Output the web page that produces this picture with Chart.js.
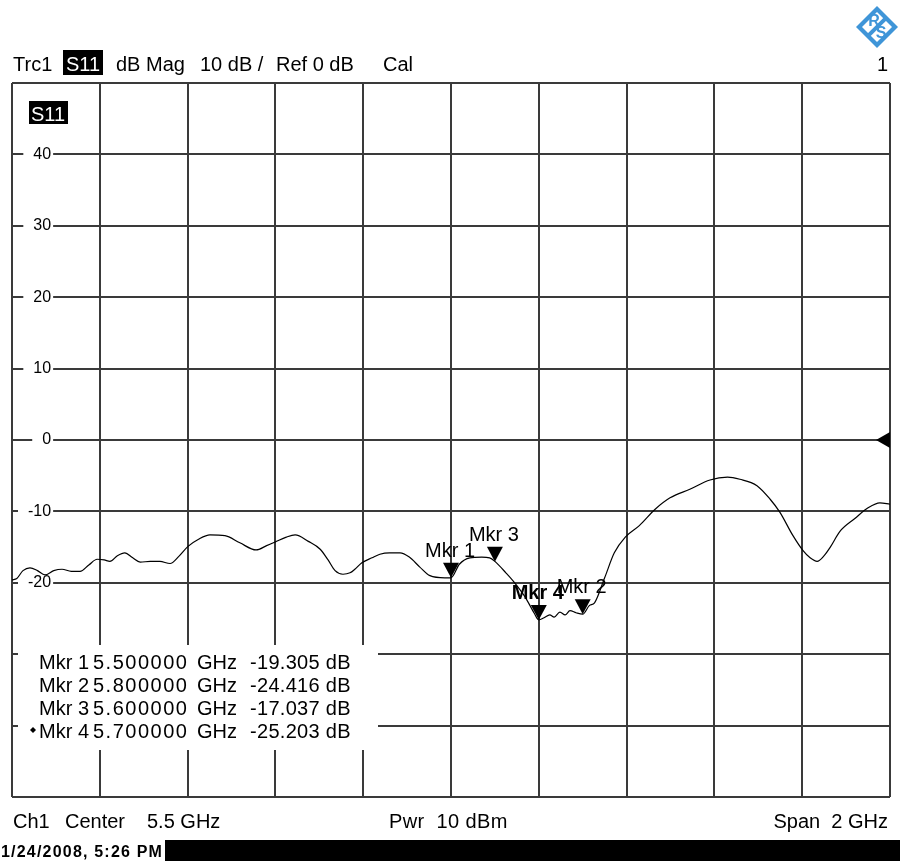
<!DOCTYPE html>
<html>
<head>
<meta charset="utf-8">
<title>S11 dB Mag</title>
<script src="https://cdn.jsdelivr.net/npm/chart.js@4.4.1/dist/chart.umd.min.js"></script>
<style>
  html, body { margin: 0; padding: 0; background: #fff; }
  #wrap { width: 900px; height: 861px; }
</style>
</head>
<body>
<div id="wrap"><canvas id="grafica" width="900" height="861"></canvas></div>
<script>
// Traza S11 (frecuencia en GHz, magnitud en dB)
const freqGHz = [
  4.500, 4.511, 4.525, 4.541, 4.558, 4.575, 4.595, 4.614, 4.635, 4.655,
  4.675, 4.694, 4.710, 4.723, 4.740, 4.757, 4.775, 4.792, 4.815, 4.837,
  4.860, 4.880, 4.901, 4.925, 4.951, 4.985, 5.019, 5.056, 5.080, 5.099,
  5.125, 5.145, 5.175, 5.202, 5.220, 5.236, 5.254, 5.270, 5.281, 5.297,
  5.320, 5.338, 5.360, 5.384, 5.405, 5.429, 5.452, 5.486, 5.500, 5.519,
  5.543, 5.570, 5.588, 5.600, 5.625, 5.645, 5.669, 5.690, 5.700, 5.712,
  5.725, 5.735, 5.748, 5.760, 5.771, 5.785, 5.800, 5.815, 5.827, 5.850,
  5.872, 5.897, 5.929, 5.965, 5.999, 6.044, 6.090, 6.130, 6.158, 6.197,
  6.227, 6.249, 6.279, 6.302, 6.318, 6.334, 6.350, 6.364, 6.386, 6.420,
  6.450, 6.477, 6.500
];
const s11dB = [
  -19.6, -19.4, -18.3, -17.9, -18.3, -18.9, -18.3, -18.1, -18.4, -18.4,
  -17.5, -16.7, -16.8, -17.0, -16.2, -15.8, -16.5, -17.1, -17.0, -17.0,
  -17.3, -16.3, -14.9, -13.9, -13.3, -13.4, -14.4, -15.4, -14.8, -14.3,
  -13.6, -13.3, -14.2, -15.3, -16.8, -18.3, -18.8, -18.6, -18.1, -17.2,
  -16.5, -16.0, -15.8, -15.8, -16.4, -17.8, -19.0, -19.3, -19.3, -17.4,
  -16.5, -16.4, -16.5, -17.0, -18.6, -20.0, -22.0, -24.3, -25.2, -24.9,
  -24.5, -24.8, -24.1, -24.5, -23.9, -24.2, -24.4, -23.2, -22.8, -19.3,
  -15.8, -13.6, -12.0, -9.7, -8.1, -6.9, -5.6, -5.2, -5.5, -6.4,
  -8.3, -10.1, -13.4, -15.5, -16.5, -17.0, -16.2, -15.0, -12.8, -11.0,
  -9.5, -8.8, -9.0
];

// Rejilla: 10 divisiones en frecuencia, 10 dB por división
const xGridGHz = [4.5, 4.7, 4.9, 5.1, 5.3, 5.5, 5.7, 5.9, 6.1, 6.3, 6.5];
const yMinDb = -50;
const yMaxDb = 50;
const yStepDb = 10;
const refLevelDb = 0;

// Marcadores
const markerNames = ['Mkr 1', 'Mkr 2', 'Mkr 3', 'Mkr 4'];
const markerFreqGHz = [5.5, 5.8, 5.6, 5.7];
const markerDb = [-19.305, -24.416, -17.037, -25.203];
const activeMarker = 3;

const FUENTE = "'Liberation Sans', Arial, sans-serif";
const COLOR_REJILLA = '#3a3a3a';

// Se dibuja el logotipo en forma de rombo
function dibujarLogo(ctx, cx, cy, r) {
    ctx.save();
    ctx.translate(cx, cy);
    ctx.beginPath();
    ctx.moveTo(0, -r); ctx.lineTo(r, 0); ctx.lineTo(0, r); ctx.lineTo(-r, 0);
    ctx.closePath();
    ctx.fillStyle = '#3f95d8';
    ctx.fill();
    const ri = r - 6;
    ctx.beginPath();
    ctx.moveTo(0, -ri); ctx.lineTo(ri, 0); ctx.lineTo(0, ri); ctx.lineTo(-ri, 0);
    ctx.closePath();
    ctx.fillStyle = '#ffffff';
    ctx.fill();
    ctx.rotate(-Math.PI / 4);
    ctx.fillStyle = '#3f95d8';
    ctx.fillRect(-ri * 0.75, -2, ri * 1.5, 4);
    ctx.rotate(Math.PI / 4);
    ctx.font = 'bold 16px ' + FUENTE;
    ctx.textAlign = 'center';
    ctx.textBaseline = 'middle';
    ctx.fillText('R', -3, -5);
    ctx.fillText('S', 4, 7);
    ctx.restore();
}

// Se dibuja un texto con caja negra y letras blancas
function textoInvertido(ctx, texto, x, y, caja) {
    ctx.fillStyle = '#000';
    ctx.fillRect(caja[0], caja[1], caja[2], caja[3]);
    ctx.fillStyle = '#fff';
    ctx.textAlign = 'left';
    ctx.fillText(texto, x, y);
}

const pluginPantalla = {
    id: 'pantalla',
    beforeDraw(chart) {
        const ctx = chart.ctx;
        ctx.save();
        ctx.fillStyle = '#fff';
        ctx.fillRect(0, 0, chart.width, chart.height);
        ctx.restore();
    },
    afterDatasetsDraw(chart) {
        const ctx = chart.ctx;
        const xs = chart.scales.x;
        const ys = chart.scales.y;
        ctx.save();
        // Triángulos de marcador sobre la traza
        markerNames.forEach((nombre, i) => {
            const px = xs.getPixelForValue(markerFreqGHz[i]);
            const py = ys.getPixelForValue(markerDb[i]);
            ctx.beginPath();
            ctx.moveTo(px, py);
            ctx.lineTo(px - 8, py - 15);
            ctx.lineTo(px + 8, py - 15);
            ctx.closePath();
            ctx.fillStyle = '#000';
            ctx.fill();
        });
        markerNames.forEach((nombre, i) => {
            const px = xs.getPixelForValue(markerFreqGHz[i]);
            const py = ys.getPixelForValue(markerDb[i]);
            ctx.font = (i === activeMarker ? 'bold ' : '') + '20px ' + FUENTE;
            ctx.textAlign = 'center';
            ctx.textBaseline = 'alphabetic';
            ctx.fillStyle = '#000';
            ctx.fillText(nombre, px - 1, py - 21);
        });
        // Flecha del nivel de referencia en el borde derecho
        const yRef = ys.getPixelForValue(refLevelDb);
        const xr = chart.chartArea.right;
        ctx.beginPath();
        ctx.moveTo(xr - 14, yRef);
        ctx.lineTo(xr, yRef - 8);
        ctx.lineTo(xr, yRef + 8);
        ctx.closePath();
        ctx.fill();
        ctx.restore();
    },
    afterDraw(chart) {
        const ctx = chart.ctx;
        ctx.save();
        ctx.textBaseline = 'alphabetic';
        ctx.font = '20px ' + FUENTE;
        ctx.fillStyle = '#000';

        // Cabecera de la traza
        ctx.fillText('Trc1', 13, 71);
        textoInvertido(ctx, 'S11', 66, 71, [63, 50, 40, 25]);
        ctx.fillStyle = '#000';
        ctx.fillText('dB Mag', 116, 71);
        ctx.fillText('10 dB /', 200, 71);
        ctx.fillText('Ref ' + refLevelDb + ' dB', 276, 71);
        ctx.fillText('Cal', 383, 71);
        ctx.textAlign = 'right';
        ctx.fillText('1', 888, 71);

        dibujarLogo(ctx, 877, 27, 21);

        // Etiqueta de traza dentro de la rejilla
        textoInvertido(ctx, 'S11', 31, 121, [29, 101, 39, 23]);

        // Tabla de marcadores
        ctx.fillStyle = '#fff';
        ctx.fillRect(22, 645, 356, 105);
        ctx.fillStyle = '#000';
        ctx.textAlign = 'left';
        markerNames.forEach((nombre, i) => {
            const yb = 669 + i * 23;
            ctx.fillText(nombre, 39, yb);
            ctx.letterSpacing = '1.5px';
            ctx.fillText(markerFreqGHz[i].toFixed(6), 93, yb);
            ctx.letterSpacing = '0px';
            ctx.fillText('GHz', 197, yb);
            ctx.letterSpacing = '0.3px';
            ctx.fillText(markerDb[i].toFixed(3) + ' dB', 250, yb);
            ctx.letterSpacing = '0px';
            if (i === activeMarker) {
                ctx.beginPath();
                ctx.moveTo(33, yb - 11);
                ctx.lineTo(36, yb - 8);
                ctx.lineTo(33, yb - 5);
                ctx.lineTo(30, yb - 8);
                ctx.closePath();
                ctx.fill();
            }
        });

        // Pie: canal, centro, potencia y span
        const fMin = xGridGHz[0];
        const fMax = xGridGHz[xGridGHz.length - 1];
        ctx.fillText('Ch1', 13, 828);
        ctx.fillText('Center', 65, 828);
        ctx.fillText(((fMin + fMax) / 2) + ' GHz', 147, 828);
        ctx.letterSpacing = '0.4px';
        ctx.fillText('Pwr  10 dBm', 389, 828);
        ctx.letterSpacing = '0px';
        ctx.textAlign = 'right';
        ctx.fillText('Span  ' + (fMax - fMin) + ' GHz', 888, 828);

        // Barra inferior con fecha
        ctx.fillStyle = '#000';
        ctx.fillRect(165, 840, chart.width - 165, chart.height - 840);
        ctx.textAlign = 'left';
        ctx.font = 'bold 16px ' + FUENTE;
        ctx.letterSpacing = '1.2px';
        ctx.fillText('1/24/2008, 5:26 PM', 1, 857);
        ctx.letterSpacing = '0px';
        ctx.restore();
    }
};

const ctx = document.getElementById('grafica').getContext('2d');
new Chart(ctx, {
    type: 'line',
    data: {
        datasets: [{
            label: 'S11',
            data: freqGHz.map((f, i) => ({ x: f, y: s11dB[i] })),
            borderColor: '#000',
            borderWidth: 1.2,
            pointRadius: 0,
            cubicInterpolationMode: 'monotone',
            fill: false
        }]
    },
    options: {
        responsive: false,
        animation: false,
        events: [],
        layout: { padding: { left: 12, right: 10, top: 83, bottom: 64 } },
        plugins: {
            legend: { display: false },
            tooltip: { enabled: false },
            title: { display: false }
        },
        scales: {
            x: {
                type: 'linear',
                min: xGridGHz[0],
                max: xGridGHz[xGridGHz.length - 1],
                afterBuildTicks: s => { s.ticks = xGridGHz.map(v => ({ value: v })); },
                afterFit: s => { s.height = 0; },
                ticks: { display: false },
                grid: { drawTicks: false, color: COLOR_REJILLA, lineWidth: 2 },
                border: { display: false }
            },
            y: {
                min: yMinDb,
                max: yMaxDb,
                afterFit: s => { s.width = 0; },
                ticks: {
                    stepSize: yStepDb,
                    mirror: true,
                    crossAlign: 'far',
                    padding: 16,
                    color: '#000',
                    font: { family: FUENTE, size: 16 },
                    showLabelBackdrop: c => c.tick.value !== yMinDb && c.tick.value !== yMaxDb,
                    backdropColor: '#fff',
                    backdropPadding: { left: 10, right: 2, top: 0, bottom: 0 },
                    callback: v => (v === yMinDb || v === yMaxDb ? '' : String(v))
                },
                grid: { drawTicks: false, color: COLOR_REJILLA, lineWidth: 2 },
                border: { display: false }
            }
        }
    },
    plugins: [pluginPantalla]
});
</script>
</body>
</html>
